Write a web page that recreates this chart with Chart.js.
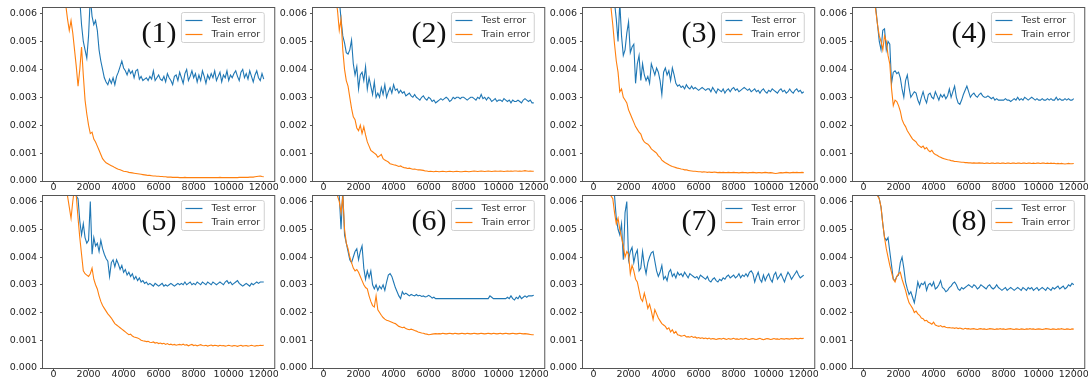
<!DOCTYPE html>
<html lang="en">
<head>
<meta charset="UTF-8">
<title>Test and train error</title>
<script src="https://cdn.jsdelivr.net/npm/chart.js"></script>
<style>
  body { margin: 0; background: #fff; }
  #fig { position: relative; width: 1088px; height: 381px; overflow: hidden; }
  #fig canvas { position: absolute; }
</style>
</head>
<body>
<div id="fig"></div>
<script>
// iterations, one sample every 100 steps (0 .. 12000)
const steps = Array.from({ length: 121 }, (_, i) => i * 100);
const seriesLabels = ["Test error", "Train error"];
const panelTags = ["(1)", "(2)", "(3)", "(4)", "(5)", "(6)", "(7)", "(8)"];
const xTicks = [0, 2000, 4000, 6000, 8000, 10000, 12000];
const yTicks = [0, 0.001, 0.002, 0.003, 0.004, 0.005, 0.006];

// error values, in units of 1e-5
const test1 = [1200,1150,1100,1050,1000,950,900,850,800,780,760,740,720,700,680,
  650,560,500,470,440,520,660,590,560,575,540,470,430,400,370,
  355,345,365,350,370,345,375,390,410,430,405,395,380,400,385,395,370,395,400,365,
  375,360,365,370,360,375,365,395,360,370,380,365,360,375,355,385,370,360,345,375,
  380,360,390,370,350,385,400,360,375,395,370,385,355,380,360,395,375,350,380,365,
  385,370,395,360,375,390,355,380,370,395,360,380,370,385,395,375,360,390,400,370,
  385,365,395,375,355,380,395,370,360,385,365];
const train1 = [1500,1300,1100,950,850,760,680,630,580,540,
  575,530,470,410,340,400,480,380,290,240,
  200,170,175,150,140,125,110,95,80,72,
  65,62,58,55,52,48,45,42,40,38,
  35,34,33,31,30,29,28,27,26,25,
  24,23,22,21,20,20,19,18,18,17,
  17,16,16,15,15,14,14,14,13,13,
  13,13,12,12,12,13,12,12,12,12,
  12,12,12,12,12,12,12,12,12,12,
  12,12,12,12,12,13,12,12,12,12,
  12,12,12,12,12,12,13,13,13,13,
  13,13,14,14,14,15,16,17,18,16,15];

const test2 = [1300,1200,1100,1000,900,850,800,750,700,650,
  580,520,495,460,455,470,505,420,380,410,
  330,380,390,360,410,330,370,340,310,355,
  300,315,300,335,310,345,300,320,335,315,
  345,325,330,315,325,315,320,305,310,315,
  305,300,310,300,295,290,300,305,295,290,
  300,295,285,290,280,285,290,295,290,295,
  300,295,285,290,300,295,300,300,295,300,
  300,295,290,295,300,300,295,290,300,295,
  310,295,300,290,300,295,285,290,295,285,
  290,290,285,295,290,285,290,280,290,285,
  285,290,285,280,290,295,290,285,290,280,280];
const train2 = [1500,1300,1100,950,850,760,700,660,610,540,
  580,470,400,360,340,300,260,230,220,190,
  180,200,170,195,165,140,125,110,105,100,
  95,85,90,95,80,75,72,68,62,60,
  58,57,55,52,54,50,48,47,45,46,
  44,42,43,41,40,40,39,38,36,36,
  34,35,34,33,35,34,33,34,35,34,
  33,34,35,34,33,34,35,34,33,33,
  34,35,34,33,34,35,36,35,34,35,
  36,35,34,35,36,35,34,35,36,35,
  35,36,35,34,35,36,35,36,35,36,
  36,35,36,35,36,37,36,35,36,35,35];

const test3 = [1300,1200,1100,1000,950,900,850,800,760,720,
  690,660,640,580,500,640,520,450,470,530,
  570,460,480,490,350,420,450,360,420,380,
  360,375,350,420,400,380,405,390,360,310,
  390,405,380,395,360,405,380,350,340,345,
  335,340,330,345,335,330,340,330,335,330,
  325,330,335,330,325,330,330,320,335,325,
  315,330,325,320,330,315,325,330,320,330,
  335,325,330,320,325,330,335,330,325,330,
  320,325,330,320,325,315,325,330,320,315,
  325,320,330,325,320,315,325,330,320,325,
  315,320,330,320,315,325,330,320,325,315,320];
const train3 = [1500,1300,1100,1000,900,820,760,710,670,640,
  620,560,490,430,390,320,330,300,290,280,
  255,240,225,210,195,185,175,168,150,140,
  135,132,125,115,110,105,100,90,85,75,
  70,65,62,58,55,52,50,48,46,45,
  43,42,40,40,38,37,36,35,35,34,
  33,33,32,33,32,31,32,31,31,32,
  31,30,31,30,31,30,30,31,30,30,
  31,30,30,29,30,31,30,30,29,30,
  30,31,30,29,30,30,29,30,31,30,
  29,30,29,28,27,28,29,30,29,30,
  31,30,29,30,31,30,31,30,30,31,30];

const test4 = [1300,1150,1000,900,800,720,660,620,560,500,
  470,540,545,470,500,490,350,390,395,385,
  390,370,330,300,360,380,335,300,310,320,
  315,290,275,300,320,295,280,310,315,300,
  295,320,305,290,310,300,310,295,305,330,
  300,320,340,300,280,275,290,310,325,340,
  320,300,310,315,305,300,310,315,305,300,
  300,305,300,295,300,290,295,290,290,290,
  290,295,290,290,285,290,295,290,300,290,
  295,290,300,295,290,295,300,295,290,295,
  290,290,295,290,290,295,290,295,290,290,
  300,290,295,290,290,295,290,295,290,290,295];
const train4 = [1400,1200,1050,900,800,720,660,610,560,520,
  500,470,520,500,450,420,330,270,290,285,
  270,250,220,205,195,180,170,160,150,145,
  140,130,125,120,125,115,120,110,105,110,
  100,95,92,88,85,82,80,78,76,75,
  73,72,70,70,69,68,67,67,66,66,
  65,65,64,65,64,64,65,64,64,63,
  64,64,63,64,64,63,64,64,63,64,
  64,63,64,64,63,64,64,63,64,64,
  63,64,64,63,64,64,63,64,63,64,
  64,63,64,64,63,64,63,64,63,63,
  62,63,62,63,62,61,62,63,62,62,63];

const test5 = [1300,1200,1100,1000,950,900,850,800,760,720,
  690,660,640,620,610,530,480,520,470,450,
  460,600,410,470,440,450,420,460,430,410,
  395,385,330,380,390,365,390,375,355,370,
  345,355,335,345,330,340,320,330,315,325,
  310,315,305,310,300,305,300,295,305,300,
  295,300,305,295,300,295,300,305,300,295,
  300,305,300,305,300,310,300,305,310,300,
  305,300,310,305,300,310,305,300,310,305,
  300,310,305,300,305,310,305,300,310,315,
  305,310,300,305,310,315,305,300,295,300,
  305,300,295,305,300,305,310,305,310,310,310];
const train5 = [1400,1200,1050,920,820,740,680,640,620,580,
  540,600,650,620,540,470,410,350,340,335,
  330,340,360,320,300,285,260,240,225,215,
  205,195,188,180,170,160,155,150,145,140,
  135,130,125,120,122,115,112,110,108,105,
  100,98,97,95,96,93,92,94,90,92,
  88,90,87,89,85,88,84,86,83,85,
  82,84,85,83,86,82,84,80,83,85,
  81,83,80,82,84,81,80,82,79,81,
  83,80,82,81,79,82,80,81,79,80,
  82,80,79,81,80,78,80,82,79,80,
  81,79,80,82,80,79,81,80,82,81,82];

const test6 = [1300,1200,1100,1000,900,820,760,700,650,620,
  500,640,480,450,420,390,380,400,420,430,
  390,420,440,360,320,350,325,350,300,285,
  300,280,295,285,300,280,310,335,340,330,
  310,290,275,260,250,275,265,270,265,260,
  265,262,260,265,260,262,258,260,256,258,
  262,258,252,255,250,250,250,250,250,250,
  250,250,250,250,250,250,250,250,250,250,
  250,250,250,250,250,250,250,250,250,250,
  250,250,250,250,250,260,255,250,250,250,
  250,250,250,250,250,255,250,260,250,245,
  255,250,260,250,255,260,255,260,260,260,262];
const train6 = [1400,1200,1050,920,820,740,680,640,620,600,
  560,620,500,450,430,400,380,360,350,355,
  345,330,315,300,290,285,260,240,225,220,
  260,210,200,190,182,176,172,170,168,165,
  162,160,155,150,148,145,147,142,140,138,
  140,138,135,133,130,128,126,125,123,122,
  120,121,122,123,124,123,124,123,125,124,
  123,124,125,124,123,125,124,123,124,125,
  124,123,125,124,123,124,125,124,123,124,
  125,124,123,124,125,124,123,125,124,123,
  124,125,123,124,125,124,123,124,125,124,
  123,124,125,124,123,124,123,122,121,120,120];

const test7 = [1300,1200,1100,1000,950,900,850,800,760,720,
  680,640,620,540,500,480,520,390,560,600,
  390,420,435,380,410,425,350,360,420,370,
  340,380,400,415,420,385,350,330,345,370,
  320,330,315,345,355,330,340,325,345,335,
  340,330,345,335,325,340,335,330,325,330,
  320,335,330,325,320,330,315,310,320,325,
  315,310,320,315,325,320,330,335,325,330,
  335,325,330,340,325,335,330,340,330,345,
  350,340,310,330,345,320,310,335,315,330,
  340,320,310,335,345,320,330,340,325,310,
  330,345,335,320,330,340,350,335,325,330,335];
const train7 = [1400,1250,1100,1000,900,820,760,710,670,640,
  620,610,560,520,540,500,470,440,400,420,
  410,340,370,350,320,310,280,250,240,270,
  245,215,230,205,175,210,195,180,170,160,
  155,150,140,145,130,138,125,132,120,118,
  115,116,118,112,113,111,114,110,112,108,
  110,107,109,106,108,105,108,104,106,105,
  103,105,106,104,107,105,103,106,104,105,
  107,104,105,103,106,104,105,107,104,103,
  105,106,104,103,105,107,104,102,104,106,
  105,103,104,106,104,105,103,106,105,104,
  106,105,104,106,105,107,106,105,107,106,107];

const test8 = [1300,1150,1000,900,820,750,700,660,630,610,
  580,520,470,460,470,420,370,320,315,330,
  335,380,400,360,310,285,265,275,255,235,
  270,310,290,305,300,310,280,300,305,295,
  310,285,290,300,315,290,285,275,280,290,
  295,305,310,300,285,280,290,285,290,295,
  300,295,290,300,295,285,290,300,295,290,
  285,295,300,290,285,290,300,290,285,280,
  285,290,280,285,290,285,280,285,290,285,
  280,290,285,280,290,285,290,280,285,290,
  280,285,290,285,280,290,285,280,290,285,
  290,295,285,290,295,285,290,300,295,305,300];
const train8 = [1400,1200,1050,920,820,740,680,640,620,610,
  580,520,470,430,400,370,345,320,310,330,
  340,345,320,300,280,255,235,225,215,200,
  205,195,190,180,178,170,172,165,162,158,
  165,155,152,150,153,148,150,147,145,146,
  144,145,143,145,142,144,142,140,143,141,
  142,140,141,142,140,139,141,142,140,141,
  139,140,142,141,140,139,141,140,142,140,
  141,139,140,141,142,140,139,141,140,139,
  141,140,139,141,140,142,140,141,139,140,
  141,140,139,140,142,141,140,139,141,140,
  139,141,140,142,140,139,141,140,139,141,140];

const testSeries = [test1, test2, test3, test4, test5, test6, test7, test8];
const trainSeries = [train1, train2, train3, train4, train5, train6, train7, train8];

// layout of the 2 x 4 grid (plot-box edges in page pixels)
const colLeft = [43, 313, 583, 853];
const rowBox = [{ top: 8, h: 173 }, { top: 196, h: 172 }];
const BOX_W = 232, AXIS_W = 43, AXIS_H = 16, PAD_TOP = 8, PAD_RIGHT = 3;
const tickFont = { family: "DejaVu Sans", size: 9.5, lineHeight: 1 };
const spine = "#555";

// matplotlib-like frame, in-axes legend and panel tag
const mplDecor = {
    id: "mplDecor",
    afterDatasetsDraw(chart, args, opts) {
        const { ctx, chartArea: a } = chart;
        ctx.save();
        ctx.strokeStyle = spine;
        ctx.lineWidth = 1;
        ctx.strokeRect(a.left - 0.5, a.top - 0.5, a.right - a.left + 1, a.bottom - a.top + 1);

        ctx.font = '9.5px "DejaVu Sans"';
        const sets = chart.data.datasets.slice().sort((p, q) => p.idx - q.idx);
        const tw = Math.max(...sets.map(d => ctx.measureText(d.label).width));
        const w = 30 + tw + 4, h = 30;
        const lx = a.right - 10 - w, ly = a.top + 4.5;
        ctx.beginPath();
        if (ctx.roundRect) ctx.roundRect(lx, ly, w, h, 2); else ctx.rect(lx, ly, w, h);
        ctx.fillStyle = "rgba(255,255,255,0.8)";
        ctx.fill();
        ctx.strokeStyle = "#d0d0d0";
        ctx.stroke();
        sets.forEach((d, i) => {
            const cy = ly + 8 + i * 14;
            ctx.strokeStyle = d.borderColor;
            ctx.lineWidth = 1.2;
            ctx.beginPath();
            ctx.moveTo(lx + 4, cy);
            ctx.lineTo(lx + 21, cy);
            ctx.stroke();
            ctx.fillStyle = "#333";
            ctx.textAlign = "left";
            ctx.textBaseline = "middle";
            ctx.fillText(d.label, lx + 30, cy);
        });

        ctx.font = '30px "Liberation Serif"';
        ctx.fillStyle = "#111";
        ctx.textAlign = "right";
        ctx.textBaseline = "alphabetic";
        ctx.fillText(opts.tag, lx - 5, a.top + 34);
        ctx.restore();
    }
};

const fig = document.getElementById("fig");

panelTags.forEach((tag, p) => {
    const row = rowBox[Math.floor(p / 4)];
    const col = colLeft[p % 4];
    const canvas = document.createElement("canvas");
    canvas.width = AXIS_W + BOX_W + PAD_RIGHT;
    canvas.height = PAD_TOP + row.h + AXIS_H;
    canvas.style.left = (col - AXIS_W) + "px";
    canvas.style.top = (row.top - PAD_TOP) + "px";
    fig.appendChild(canvas);

    const toPoints = vals => steps.map((s, i) => ({ x: s, y: vals[i] / 1e5 }));

    new Chart(canvas, {
        type: "line",
        data: {
            datasets: [
                {
                    idx: 0,
                    label: seriesLabels[0],
                    data: toPoints(testSeries[p]),
                    borderColor: "#1f77b4",
                    borderWidth: 1.1,
                    pointRadius: 0,
                    tension: 0,
                    order: 1,
                    clip: 0
                },
                {
                    idx: 1,
                    label: seriesLabels[1],
                    data: toPoints(trainSeries[p]),
                    borderColor: "#ff7f0e",
                    borderWidth: 1.1,
                    pointRadius: 0,
                    tension: 0,
                    order: 0,
                    clip: 0
                }
            ]
        },
        options: {
            responsive: false,
            animation: false,
            events: [],
            layout: { padding: { left: 0, top: PAD_TOP, right: PAD_RIGHT, bottom: 0 } },
            plugins: {
                legend: { display: false },
                tooltip: { enabled: false },
                mplDecor: { tag: tag }
            },
            scales: {
                x: {
                    type: "linear",
                    min: -600,
                    max: 12600,
                    afterBuildTicks: s => { s.ticks = xTicks.map(v => ({ value: v })); },
                    afterFit: s => { s.height = AXIS_H; },
                    grid: { drawOnChartArea: false, drawTicks: true, tickLength: 3, color: spine },
                    border: { display: false },
                    ticks: {
                        autoSkip: false,
                        maxRotation: 0,
                        padding: -1,
                        color: "#262626",
                        font: tickFont,
                        callback: v => String(v)
                    }
                },
                y: {
                    min: 0,
                    max: 0.0062,
                    afterBuildTicks: s => { s.ticks = yTicks.map(v => ({ value: v })); },
                    afterFit: s => { s.width = AXIS_W; },
                    grid: { drawOnChartArea: false, drawTicks: true, tickLength: 3, color: spine },
                    border: { display: false },
                    ticks: {
                        autoSkip: false,
                        padding: 3,
                        color: "#262626",
                        font: tickFont,
                        callback: v => v.toFixed(3)
                    }
                }
            }
        },
        plugins: [mplDecor]
    });
});
</script>
</body>
</html>
